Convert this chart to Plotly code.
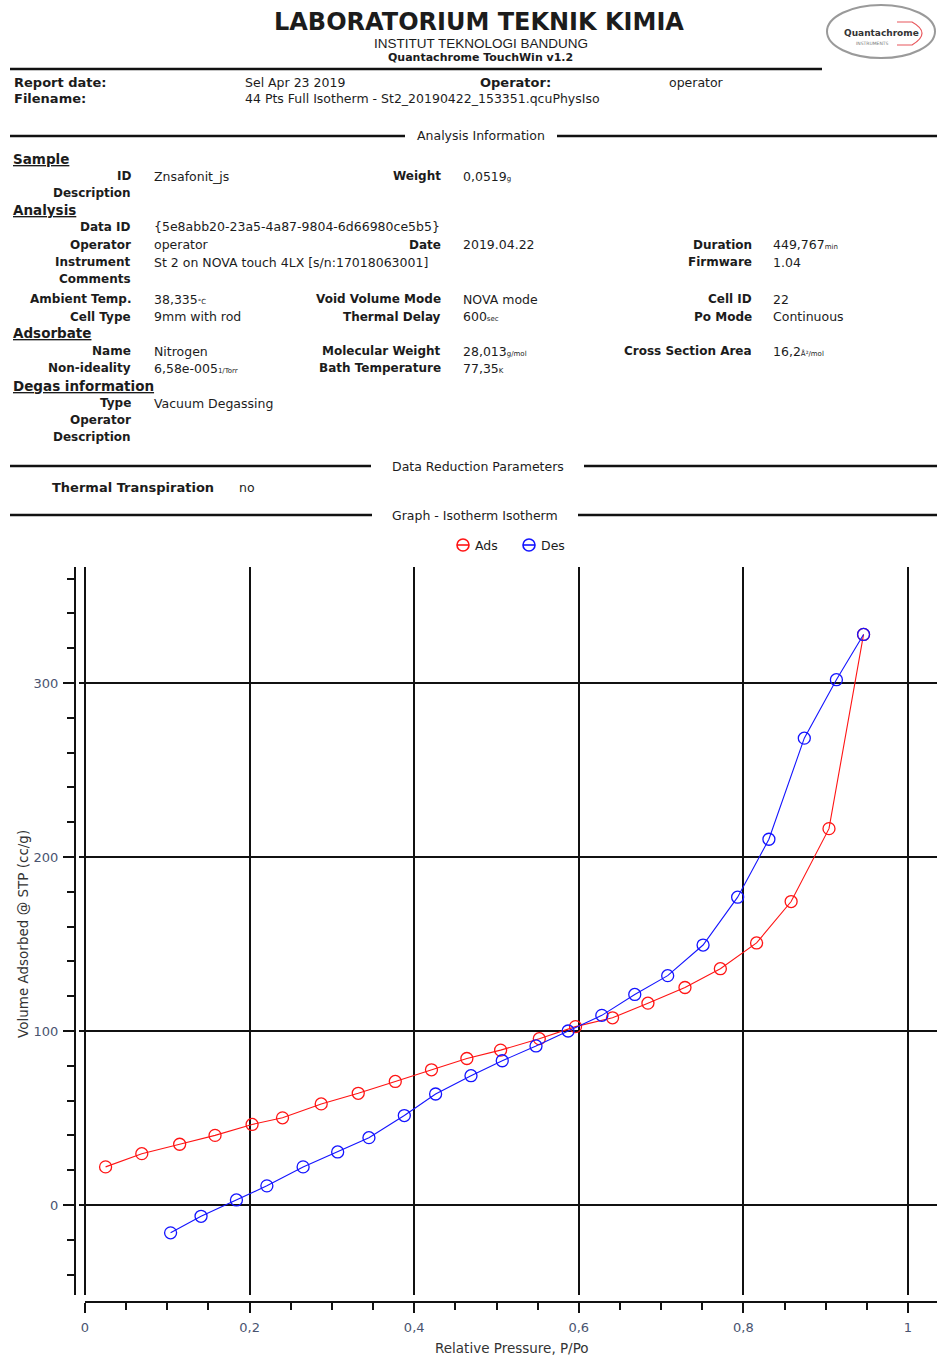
import plotly.graph_objects as go

W, H = 937, 1356

# ---- isotherm data (relative pressure P/Po, volume adsorbed cc/g STP) ----
ads_p = [0.025, 0.069, 0.115, 0.158, 0.203, 0.240, 0.287, 0.332, 0.377, 0.421, 0.464,
         0.505, 0.552, 0.596, 0.641, 0.684, 0.729, 0.772, 0.816, 0.858, 0.904, 0.946]
ads_v = [21.9, 29.5, 34.9, 40.0, 46.3, 50.1, 58.1, 64.2, 71.0, 77.7, 84.2,
         89.0, 95.6, 102.5, 107.6, 116.0, 125.0, 135.8, 150.6, 174.4, 216.3, 327.9]

des_p = [0.946, 0.913, 0.874, 0.831, 0.793, 0.751, 0.708, 0.668, 0.628, 0.587, 0.548,
         0.507, 0.469, 0.426, 0.388, 0.345, 0.307, 0.265, 0.221, 0.184, 0.141, 0.104]
des_v = [327.9, 301.9, 268.3, 210.2, 176.9, 149.4, 131.8, 121.0, 109.0, 100.0, 91.4,
         82.9, 74.3, 63.8, 51.4, 38.7, 30.5, 21.9, 11.0, 2.9, -6.5, -16.0]

x_tick_vals = [0, 0.2, 0.4, 0.6, 0.8, 1]
x_tick_text = ["0", "0,2", "0,4", "0,6", "0,8", "1"]
y_tick_vals = [0, 100, 200, 300]
y_tick_text = ["0", "100", "200", "300"]

series_names = ["Ads", "Des"]
series_colors = ["#ff1414", "#1414ff"]

# ---- report header ----
title_main = "LABORATORIUM TEKNIK KIMIA"
title_sub1 = "INSTITUT TEKNOLOGI BANDUNG"
title_sub2 = "Quantachrome TouchWin v1.2"
report_date = "Sel Apr 23 2019"
report_operator = "operator"
report_file = "44 Pts Full Isotherm - St2_20190422_153351.qcuPhysIso"

# ---- analysis information table: (row y, column, label, value, unit) ----
info_headings = [(159, "Sample"), (210, "Analysis"), (333, "Adsorbate"), (386, "Degas information")]
info_rows = [
    (176, 0, "ID", "Znsafonit_js", ""),
    (176, 1, "Weight", "0,0519", "g"),
    (193, 0, "Description", "", ""),
    (227, 0, "Data ID", "{5e8abb20-23a5-4a87-9804-6d66980ce5b5}", ""),
    (245, 0, "Operator", "operator", ""),
    (245, 1, "Date", "2019.04.22", ""),
    (245, 2, "Duration", "449,767", "min"),
    (262, 0, "Instrument", "St 2 on NOVA touch 4LX [s/n:17018063001]", ""),
    (262, 2, "Firmware", "1.04", ""),
    (279, 0, "Comments", "", ""),
    (299, 0, "Ambient Temp.", "38,335", "°C"),
    (299, 1, "Void Volume Mode", "NOVA mode", ""),
    (299, 2, "Cell ID", "22", ""),
    (317, 0, "Cell Type", "9mm with rod", ""),
    (317, 1, "Thermal Delay", "600", "sec"),
    (317, 2, "Po Mode", "Continuous", ""),
    (351, 0, "Name", "Nitrogen", ""),
    (351, 1, "Molecular Weight", "28,013", "g/mol"),
    (351, 2, "Cross Section Area", "16,2", "Å²/mol"),
    (368, 0, "Non-ideality", "6,58e-005", "1/Torr"),
    (368, 1, "Bath Temperature", "77,35", "K"),
    (403, 0, "Type", "Vacuum Degassing", ""),
    (420, 0, "Operator", "", ""),
    (437, 0, "Description", "", ""),
]
col_label_right = [133, 443, 754]
col_value_left = [152, 461, 771]

# section rules: (y, left segment end, right segment start, caption, caption centre)
sections = [
    (136, 405, 557, "Analysis Information", 481),
    (466, 371, 584, "Data Reduction Parameters", 478),
    (515, 372, 578, "Graph - Isotherm Isotherm", 475),
]

SANS = "DejaVu Sans, Verdana, sans-serif"
TEXT = "#1c1c1c"
TICK = "#4a5470"


def px(x):
    return x / W


def py(y):
    return 1 - y / H


annotations = []
shapes = []


def text(x, y, s, size=12.5, anchor="left", family=SANS, color=TEXT, angle=0):
    annotations.append(dict(
        x=px(x), y=py(y), xref="paper", yref="paper", text=s, showarrow=False,
        xanchor=anchor, yanchor="middle", textangle=angle,
        font=dict(family=family, size=size, color=color),
    ))


def hline(y, x0, x1, width=2.5, color="#111111"):
    shapes.append(dict(type="line", xref="paper", yref="paper",
                       x0=px(x0), x1=px(x1), y0=py(y), y1=py(y),
                       line=dict(color=color, width=width)))


# header block
text(479, 22, "<b>" + title_main + "</b>", size=24, anchor="center")
text(481, 43, title_sub1, size=13.5, anchor="center", family="Liberation Sans Narrow, Liberation Sans, Arial, sans-serif")
text(480, 58, "<b>" + title_sub2 + "</b>", size=11, anchor="center")
hline(69, 10, 822, width=2.5)

# company logo
shapes.append(dict(type="circle", xref="paper", yref="paper",
                   x0=px(827), x1=px(935), y0=py(58), y1=py(5),
                   line=dict(color="#9a9a9a", width=2)))
logo_path = "M {:.5f},{:.5f} L {:.5f},{:.5f} Q {:.5f},{:.5f} {:.5f},{:.5f} L {:.5f},{:.5f}".format(
    px(897), py(22), px(912), py(22), px(932), py(33), px(912), py(45), px(897), py(45))
shapes.append(dict(type="path", xref="paper", yref="paper", path=logo_path,
                   line=dict(color="#e8575c", width=1.2)))
text(881, 33, "<b>Quantachrome</b>", size=9, anchor="center", color="#333333")
text(872, 43, "INSTRUMENTS", size=4.5, anchor="center", color="#777777")

text(12, 82, "<b>Report date:</b>", size=13)
text(243, 82, report_date, size=12.5)
text(478, 82, "<b>Operator:</b>", size=13)
text(667, 82, report_operator, size=12.5)
text(12, 99, "<b>Filename:</b>", size=13)
text(243, 99, report_file, size=12.5)

# section rules with captions
for y, left_end, right_start, caption, cx in sections:
    hline(y, 10, left_end)
    hline(y, right_start, W)
    text(cx, y, caption, size=12.5, anchor="center")

# analysis information table
for y, head in info_headings:
    text(11, y, "<b><u>" + head + "</u></b>", size=13.5)
for y, col, label, value, unit in info_rows:
    text(col_label_right[col], y, "<b>" + label + "</b>", size=12, anchor="right")
    if value:
        s = value
        if unit:
            s += "<span style='font-size:7px'>" + unit + "</span>"
        text(col_value_left[col], y, s, size=12.5)

# data reduction parameters
text(50, 488, "<b>Thermal Transpiration</b>", size=13)
text(237, 488, "no", size=12.5)

# legend (circle marker with the connecting line through it)
legend_x = [463, 529]
for cx, name, color in zip(legend_x, series_names, series_colors):
    shapes.append(dict(type="circle", xref="paper", yref="paper",
                       x0=px(cx - 6), x1=px(cx + 6), y0=py(551), y1=py(539),
                       line=dict(color=color, width=1.6)))
    hline(545, cx - 6, cx + 6, width=1.6, color=color)
    text(cx + 10, 545, name, size=12.5)

# axis titles
text(23, 934, "Volume Adsorbed @ STP (cc/g)", size=13.5, anchor="center", angle=-90, color="#333333")
text(512, 1348, "Relative Pressure, P/Po", size=13.5, anchor="center", color="#333333")

# plot geometry (pixels): x=0 at 85, x=1 at 908; y=0 at 1205, y=300 at 683
x_per_px = 1 / 823.0
y_per_px = 300 / 522.0
x_range = [(79 - 85) * x_per_px, (W - 85) * x_per_px]
y_range = [-(1295 - 1205) * y_per_px, (1205 - 567) * y_per_px]

fig = go.Figure()
for xs, ys, name, color in [(ads_p, ads_v, series_names[0], series_colors[0]),
                            (des_p, des_v, series_names[1], series_colors[1])]:
    fig.add_trace(go.Scatter(
        x=xs, y=ys, name=name, mode="lines+markers", showlegend=False,
        line=dict(color=color, width=1.1),
        marker=dict(symbol="circle-open", size=12, color=color, line=dict(width=1.3)),
        cliponaxis=False, hoverinfo="skip",
    ))

# detached x-axis baseline running from P/Po = 0 to the right edge
x_axis_y = py(1302)
shapes.append(dict(type="line", xref="x", yref="paper", x0=0, x1=x_range[1],
                   y0=x_axis_y, y1=x_axis_y, line=dict(color="#111111", width=2)))

fig.update_layout(
    width=W, height=H, autosize=False,
    margin=dict(l=0, r=0, t=0, b=0, pad=0),
    paper_bgcolor="white", plot_bgcolor="white",
    showlegend=False,
    annotations=annotations, shapes=shapes,
    xaxis=dict(
        domain=[px(79), 1], range=x_range, anchor="free", position=x_axis_y,
        tickmode="array", tickvals=x_tick_vals, ticktext=x_tick_text,
        showgrid=True, gridcolor="#111111", gridwidth=2, zeroline=False,
        showline=False, ticks="outside", ticklen=10, tickwidth=2, tickcolor="#111111",
        ticklabelstandoff=3,
        tickfont=dict(family=SANS, size=13, color=TICK),
        minor=dict(tick0=0, dtick=0.05, ticks="outside", ticklen=7, tickwidth=2,
                   tickcolor="#111111", showgrid=False),
        fixedrange=True,
    ),
    yaxis=dict(
        domain=[py(1295), py(567)], range=y_range, anchor="free", position=px(75),
        tickmode="array", tickvals=y_tick_vals, ticktext=y_tick_text,
        showgrid=True, gridcolor="#111111", gridwidth=2, zeroline=False,
        showline=True, linecolor="#111111", linewidth=2,
        ticks="outside", ticklen=11, tickwidth=2, tickcolor="#111111",
        ticklabelstandoff=2,
        tickfont=dict(family=SANS, size=13, color=TICK),
        minor=dict(tick0=0, dtick=20, ticks="outside", ticklen=7, tickwidth=2,
                   tickcolor="#111111", showgrid=False),
        fixedrange=True,
    ),
)

fig.write_html("out.html", config={"displayModeBar": False})
